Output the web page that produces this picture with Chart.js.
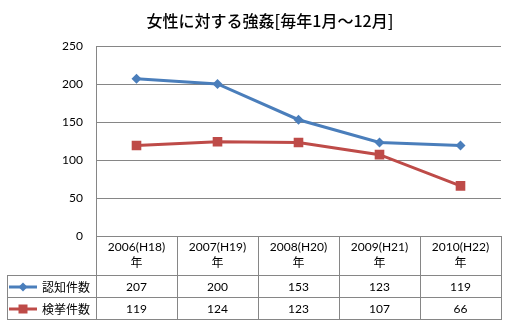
<!DOCTYPE html>
<html>
<head>
<meta charset="utf-8">
<script src="https://cdn.jsdelivr.net/npm/chart.js@4.4.0/dist/chart.umd.min.js"></script>
<style>
    html, body { margin: 0; padding: 0; background: #fff; }
    .chartBox { width: 510px; height: 328px; position: relative; }
</style>
</head>
<body>
<div class="chartBox"><canvas id="myChart"></canvas></div>
<script>
// chart data
var chartTitle = '女性に対する強姦[毎年1月～12月]';
var years = ['2006(H18)年', '2007(H19)年', '2008(H20)年', '2009(H21)年', '2010(H22)年'];
var seriesNames = ['認知件数', '検挙件数'];
var ninchi = [207, 200, 153, 123, 119];
var kenkyo = [119, 124, 123, 107, 66];
var yTicks = [0, 50, 100, 150, 200, 250];

var blue = '#4a7ebb';
var red = '#be4b48';
var gray = '#868686';
var numFont = '12px Lato, "Noto Sans CJK JP", sans-serif';
var jpFont = '12px "Noto Sans CJK JP", sans-serif';

// draws the title and the data table under the x axis (Excel style)
var tablePlugin = {
    id: 'dataTable',
    afterDraw: function (chart) {
        var ctx = chart.ctx;
        var xs = chart.scales.x;
        var area = chart.chartArea;
        var rowTop = Math.round(xs.bottom);
        var rowH = 22;
        var tableLeft = 7;
        var colW = (xs.right - xs.left) / years.length;

        ctx.save();
        ctx.fillStyle = '#000';
        ctx.font = '500 16px "Noto Sans CJK JP", sans-serif';
        ctx.textAlign = 'center';
        ctx.textBaseline = 'middle';
        ctx.fillText(chartTitle, 270, 21);

        ctx.strokeStyle = gray;
        ctx.lineWidth = 1;
        ctx.beginPath();
        for (var i = 0; i <= years.length; i++) {
            var lx = Math.round(xs.left + i * colW) + 0.5;
            ctx.moveTo(lx, Math.round(area.bottom));
            ctx.lineTo(lx, rowTop + 2 * rowH + 1);
        }
        ctx.moveTo(tableLeft + 0.5, rowTop);
        ctx.lineTo(tableLeft + 0.5, rowTop + 2 * rowH + 1);
        for (var r = 0; r <= 2; r++) {
            var ly = rowTop + r * rowH + 0.5;
            ctx.moveTo(tableLeft, ly);
            ctx.lineTo(Math.round(xs.right) + 1, ly);
        }
        ctx.stroke();

        chart.data.datasets.forEach(function (ds, d) {
            var cy = rowTop + d * rowH + rowH / 2 + 1;
            // legend key
            ctx.strokeStyle = ds.borderColor;
            ctx.lineWidth = 3;
            ctx.beginPath();
            ctx.moveTo(9, cy);
            ctx.lineTo(37, cy);
            ctx.stroke();
            ctx.fillStyle = ds.borderColor;
            ctx.beginPath();
            if (ds.pointStyle === 'rectRot') {
                ctx.moveTo(23, cy - 4.5);
                ctx.lineTo(27.5, cy);
                ctx.lineTo(23, cy + 4.5);
                ctx.lineTo(18.5, cy);
            } else {
                ctx.rect(18.5, cy - 4.5, 9, 9);
            }
            ctx.fill();

            ctx.fillStyle = '#000';
            ctx.font = jpFont;
            ctx.textAlign = 'left';
            ctx.fillText(ds.label, 42, cy);
            ctx.font = numFont;
            ctx.textAlign = 'center';
            ds.data.forEach(function (v, i) {
                ctx.fillText(String(v), xs.getPixelForValue(i), cy);
            });
        });
        ctx.restore();
    }
};

var ctx = document.getElementById('myChart').getContext('2d');
var chart = new Chart(ctx, {
    type: 'line',
    data: {
        labels: years,
        datasets: [{
            label: seriesNames[0],
            data: ninchi,
            borderColor: blue,
            backgroundColor: blue,
            borderWidth: 3,
            pointStyle: 'rectRot',
            pointRadius: 5,
            pointBorderWidth: 0,
            tension: 0
        }, {
            label: seriesNames[1],
            data: kenkyo,
            borderColor: red,
            backgroundColor: red,
            borderWidth: 3,
            pointStyle: 'rect',
            pointRadius: 6.8,
            pointBorderWidth: 0,
            tension: 0
        }]
    },
    options: {
        responsive: true,
        maintainAspectRatio: false,
        animation: false,
        devicePixelRatio: 1,
        layout: { padding: { top: 46, right: 9, bottom: 53, left: 0 } },
        plugins: {
            legend: { display: false },
            title: { display: false },
            tooltip: { enabled: false }
        },
        scales: {
            x: {
                offset: true,
                afterFit: function (scale) { scale.height = 39; },
                grid: { display: false, drawTicks: false },
                border: { display: true, color: gray, width: 1 },
                ticks: {
                    padding: 3,
                    color: '#000',
                    maxRotation: 0,
                    autoSkip: false,
                    font: { family: 'Lato, "Noto Sans CJK JP", sans-serif', size: 12, lineHeight: 1.35 },
                    callback: function (v, i) {
                        var s = years[i];
                        return [s.slice(0, -1), s.slice(-1)];
                    }
                }
            },
            y: {
                min: yTicks[0],
                max: yTicks[yTicks.length - 1],
                afterFit: function (scale) { scale.width = 96; },
                afterBuildTicks: function (scale) {
                    scale.ticks = yTicks.map(function (v) { return { value: v }; });
                },
                grid: { color: gray, drawTicks: false },
                border: { display: true, color: gray, width: 1 },
                ticks: {
                    padding: 13,
                    color: '#000',
                    font: { family: 'Lato, sans-serif', size: 12 }
                }
            }
        }
    },
    plugins: [tablePlugin]
});
</script>
</body>
</html>
